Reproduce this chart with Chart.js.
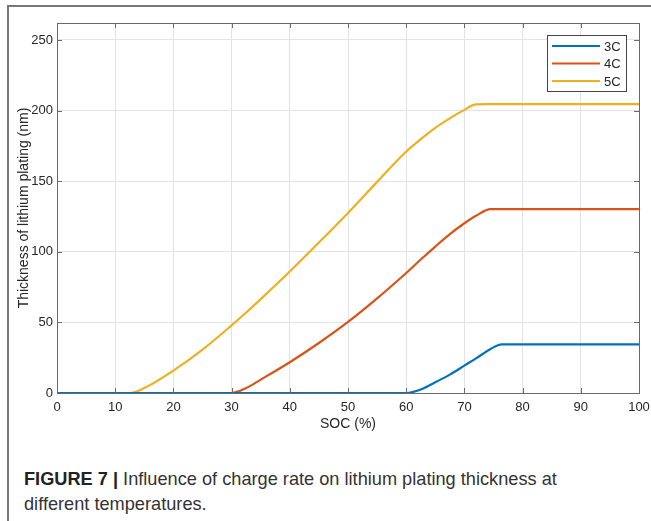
<!DOCTYPE html>
<html>
<head>
<meta charset="utf-8">
<script src="https://cdn.jsdelivr.net/npm/chart.js@4/dist/chart.umd.min.js"></script>
<style>
  body { margin: 0; background: #fff; width: 651px; height: 521px; overflow: hidden; position: relative; }
  #frame { position: absolute; left: 7px; top: 5px; width: 650px; height: 520px; border-left: 2px solid #777; border-top: 2px solid #777; }
  #chart { position: absolute; left: 0; top: 0; }
  #caption { position: absolute; left: 24px; top: 467px; font-family: "Liberation Sans", Arial, sans-serif; font-size: 18.2px; line-height: 25px; color: #333; }
  #caption b { color: #222; }
</style>
</head>
<body>
<div id="frame"></div>
<canvas id="chart" width="651" height="440"></canvas>
<div id="caption"><b>FIGURE 7 |</b> Influence of charge rate on lithium plating thickness at<br>different temperatures.</div>
<script>
// SOC grid (%) and plating thickness (nm)
const soc = [0, 10, 12.5, 15, 20, 25, 30, 32.5, 35, 40, 45, 50, 55, 60, 62.5, 65, 67.5, 70, 72, 74.5, 76.4, 80, 90, 100];
const rate3C = [0, 0, 0, 0, 0, 0, 0, 0, 0, 0, 0, 0, 0, 0, 2.5, 7.6, 13, 19.4, 24.5, 31.2, 34.5, 34.5, 34.5, 34.5];
const rate4C = [0, 0, 0, 0, 0, 0, 0, 3.5, 9.5, 21.8, 35.4, 50.3, 67, 85, 94.5, 103.7, 112.5, 120.2, 125.5, 130.2, 130.2, 130.2, 130.2, 130.2];
const rate5C = [0, 0, 0, 3.5, 15.9, 30.7, 47.9, 57, 66.5, 86, 106.5, 127.5, 149.5, 171, 179.8, 187.8, 194.5, 200.5, 204.4, 204.5, 204.5, 204.5, 204.5, 204.5];
const seriesNames = ["3C", "4C", "5C"];
const seriesColors = ["#0072BD", "#D95319", "#EDB120"];
const xTicks = [0, 10, 20, 30, 40, 50, 60, 70, 80, 90, 100];
const yTicks = [0, 50, 100, 150, 200, 250];

const axisColor = "#6a6a6a";
const textColor = "#262626";
const tickFont = { family: "Liberation Sans, Arial, sans-serif", size: 13 };
const titleFont = { family: "Liberation Sans, Arial, sans-serif", size: 14 };

function toPoints(ys) {
  return soc.map((x, i) => ({ x: x, y: ys[i] }));
}

// box, inner ticks and legend drawn like the MATLAB figure
const matlabBox = {
  id: "matlabBox",
  afterDatasetsDraw(chart) {
    const ctx = chart.ctx;
    const a = chart.chartArea;
    const xs = chart.scales.x, ys = chart.scales.y;
    ctx.save();
    ctx.strokeStyle = axisColor;
    ctx.lineWidth = 1;
    ctx.beginPath();
    xTicks.forEach(v => {
      const px = Math.round(xs.getPixelForValue(v)) + 0.5;
      ctx.moveTo(px, a.bottom); ctx.lineTo(px, a.bottom - 5);
      ctx.moveTo(px, a.top); ctx.lineTo(px, a.top + 5);
    });
    yTicks.forEach(v => {
      const py = Math.round(ys.getPixelForValue(v)) + 0.5;
      ctx.moveTo(a.left, py); ctx.lineTo(a.left + 5, py);
      ctx.moveTo(a.right, py); ctx.lineTo(a.right - 5, py);
    });
    ctx.stroke();
    ctx.strokeRect(Math.round(a.left) + 0.5, Math.round(a.top) + 0.5, Math.round(a.right - a.left), Math.round(a.bottom - a.top));

    // legend
    const bx = a.right - 92, by = a.top + 12, bw = 79, bh = 56;
    ctx.fillStyle = "#fff";
    ctx.fillRect(bx, by, bw, bh);
    ctx.strokeStyle = "#444";
    ctx.strokeRect(bx + 0.5, by + 0.5, bw, bh);
    ctx.font = "13px Liberation Sans, Arial, sans-serif";
    ctx.textBaseline = "middle";
    chart.data.datasets.forEach((ds, i) => {
      const ly = by + 11 + i * 17.5;
      ctx.strokeStyle = ds.borderColor;
      ctx.lineWidth = 2;
      ctx.beginPath();
      ctx.moveTo(bx + 5, ly); ctx.lineTo(bx + 53, ly);
      ctx.stroke();
      ctx.fillStyle = textColor;
      ctx.fillText(ds.label, bx + 57, ly + 1);
    });
    ctx.restore();
  }
};

new Chart(document.getElementById("chart"), {
  type: "line",
  data: {
    datasets: [rate3C, rate4C, rate5C].map((ys, i) => ({
      label: seriesNames[i],
      data: toPoints(ys),
      borderColor: seriesColors[i],
      backgroundColor: seriesColors[i],
      borderWidth: 2.2,
      pointRadius: 0,
      cubicInterpolationMode: "monotone",
      fill: false
    }))
  },
  options: {
    responsive: false,
    animation: false,
    devicePixelRatio: 1,
    layout: { padding: { top: 23, right: 12, left: 0, bottom: 0 } },
    plugins: { legend: { display: false }, tooltip: { enabled: false } },
    scales: {
      x: {
        type: "linear",
        min: 0, max: 100,
        afterFit(scale) { scale.height = 47; scale.paddingLeft = 0; scale.paddingRight = 0; },
        afterBuildTicks(scale) { scale.ticks = xTicks.map(v => ({ value: v })); },
        ticks: { color: textColor, font: tickFont, padding: 7, maxRotation: 0 },
        grid: { color: "#e3e3e3", drawTicks: false },
        border: { display: false },
        title: { display: true, text: "SOC (%)", color: textColor, font: titleFont, padding: { top: 0, bottom: 7 } }
      },
      y: {
        type: "linear",
        min: 0, max: 262,
        afterFit(scale) { scale.width = 57; scale.paddingTop = 0; scale.paddingBottom = 0; },
        afterBuildTicks(scale) { scale.ticks = yTicks.map(v => ({ value: v })); },
        ticks: { color: textColor, font: tickFont, padding: 4 },
        grid: { color: "#e3e3e3", drawTicks: false },
        border: { display: false },
        title: { display: true, text: "Thickness of lithium plating (nm)", color: textColor, font: titleFont, padding: { top: 16, bottom: 0 } }
      }
    }
  },
  plugins: [matlabBox]
});
</script>
</body>
</html>
